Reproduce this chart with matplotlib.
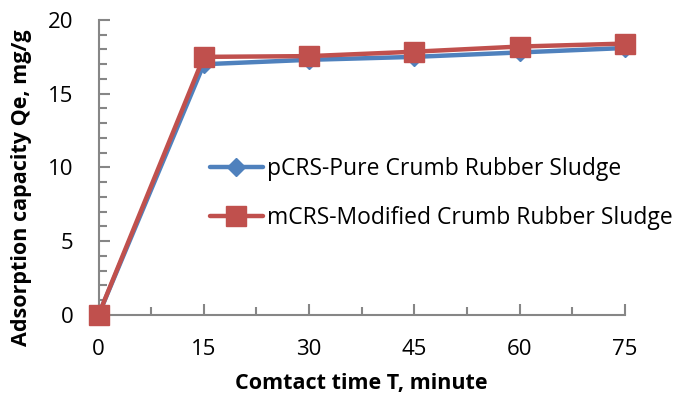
import matplotlib
matplotlib.use("Agg")
import matplotlib.pyplot as plt
from matplotlib.ticker import MultipleLocator

# Contact time (minutes) and adsorption capacity Qe (mg/g)
time_min = [0, 15, 30, 45, 60, 75]
qe_pcrs = [0, 17.0, 17.3, 17.5, 17.8, 18.1]
qe_mcrs = [0, 17.5, 17.55, 17.85, 18.2, 18.4]

labels = ["pCRS-Pure Crumb Rubber Sludge", "mCRS-Modified Crumb Rubber Sludge"]

plt.rcParams['font.family'] = ['Open Sans', 'DejaVu Sans']

fig = plt.figure(figsize=(6.78, 4.03), dpi=100)
ax = fig.add_axes([0.1453, 0.2184, 0.9218 - 0.1453, 0.9504 - 0.2184])

ax.plot(time_min, qe_pcrs, color="#4F81BD", lw=3.2, marker="D", ms=9,
        label=labels[0], solid_capstyle="round", clip_on=False, zorder=3)
ax.plot(time_min, qe_mcrs, color="#C0504D", lw=3.2, marker="s", ms=14,
        label=labels[1], solid_capstyle="round", clip_on=False, zorder=4)

ax.set_xlim(0, 75)
ax.set_ylim(0, 20)
ax.xaxis.set_major_locator(MultipleLocator(15))
ax.xaxis.set_minor_locator(MultipleLocator(7.5))
ax.yaxis.set_major_locator(MultipleLocator(5))
ax.yaxis.set_minor_locator(MultipleLocator(1))

for s in ["top", "right"]:
    ax.spines[s].set_visible(False)
for s in ["left", "bottom"]:
    ax.spines[s].set_color("#868686")
    ax.spines[s].set_linewidth(1.5)

ax.tick_params(which="major", direction="in", length=8, width=1.5, color="#868686",
               labelsize=16)
ax.tick_params(which="minor", direction="in", length=6, width=1.5, color="#868686")
ax.tick_params(axis="x", which="major", pad=17)
ax.tick_params(axis="y", which="major", pad=18)

ax.set_xlabel("Comtact time T, minute", fontsize=15.5, fontweight="bold", labelpad=10)
ax.set_ylabel("Adsorption capacity Qe, mg/g", fontsize=15.5, fontweight="bold")
ax.yaxis.set_label_coords(-0.126, 0.43)

ax.legend(loc="upper left", bbox_to_anchor=(0.212, 0.535), frameon=False, fontsize=16.5,
          handlelength=2.3, handletextpad=0.2, labelspacing=1.1, borderaxespad=0,
          borderpad=0)

fig.savefig("out.png", dpi=100)
